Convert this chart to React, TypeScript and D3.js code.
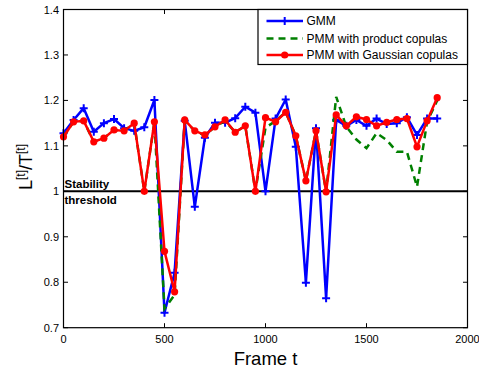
import React, {useEffect, useRef} from "react";
import * as d3 from "d3";

// frame index of each sample
const frames = [0, 50, 100, 150, 200, 250, 300, 350, 400, 450, 500, 550, 600, 650, 700, 750, 800, 850, 900, 950,
    1000, 1050, 1100, 1150, 1200, 1250, 1300, 1350, 1400, 1450, 1500, 1550, 1600, 1650, 1700, 1750, 1800, 1850];

const gmm = [1.128, 1.157, 1.183, 1.131, 1.150, 1.159, 1.139, 1.133, 1.141, 1.201, 0.733, 0.821, 1.155, 0.966, 1.118,
    1.151, 1.151, 1.161, 1.186, 1.173, 1.0, 1.160, 1.202, 1.098, 0.799, 1.139, 0.765, 1.157, 1.144, 1.157, 1.144,
    1.160, 1.148, 1.150, 1.163, 1.124, 1.160, 1.160];

const productCopulas = [1.120, 1.153, 1.155, 1.109, 1.117, 1.135, 1.133, 1.150, 1.0, 1.153, 0.742, 0.772, 1.155,
    1.133, 1.123, 1.142, 1.155, 1.130, 1.144, 1.0, 1.140, 1.155, 1.174, 1.122, 1.023, 1.133, 0.999, 1.208, 1.142,
    1.114, 1.095, 1.128, 1.113, 1.087, 1.087, 1.010, 1.153, 1.200];

const gaussianCopulas = [1.120, 1.153, 1.155, 1.109, 1.117, 1.135, 1.133, 1.150, 1.0, 1.153, 0.868, 0.779, 1.157,
    1.133, 1.124, 1.142, 1.157, 1.130, 1.144, 1.0, 1.162, 1.153, 1.174, 1.122, 1.023, 1.133, 0.999, 1.168, 1.144,
    1.164, 1.158, 1.144, 1.152, 1.158, 1.160, 1.098, 1.155, 1.206];

const xTicks = [0, 500, 1000, 1500, 2000];
const yTicks = [0.7, 0.8, 0.9, 1.0, 1.1, 1.2, 1.3, 1.4];
const threshold = 1.0;

const legendNames = ["GMM", "PMM with product copulas", "PMM with Gaussian copulas"];

const FONT = "Arial, 'Liberation Sans', Helvetica, sans-serif";

const App = () => {
    const ref = useRef<SVGSVGElement>(null);

    const width = 479, height = 369;
    const left = 63.5, right = 467.5, top = 9.5, bottom = 327.7;

    useEffect(() => {
        const svg = d3.select(ref.current);
        svg.selectAll("*").remove();

        const x = d3.scaleLinear().domain([0, 2000]).range([left, right]);
        const y = d3.scaleLinear().domain([0.7, 1.4]).range([bottom, top]);

        svg.append("rect").attr("width", width).attr("height", height).attr("fill", "#fff");

        const g = svg.append("g");
        const tick = 4.5;

        // ticks (inward, all four sides)
        xTicks.forEach(t => {
            g.append("line").attr("x1", x(t)).attr("x2", x(t)).attr("y1", bottom).attr("y2", bottom - tick)
                .attr("stroke", "#000");
            g.append("line").attr("x1", x(t)).attr("x2", x(t)).attr("y1", top).attr("y2", top + tick)
                .attr("stroke", "#000");
            g.append("text").attr("x", x(t)).attr("y", bottom + 15.5)
                .attr("text-anchor", "middle").attr("font-size", 11).attr("font-family", FONT)
                .text(d3.format("d")(t));
        });
        yTicks.forEach(t => {
            g.append("line").attr("x1", left).attr("x2", left + tick).attr("y1", y(t)).attr("y2", y(t))
                .attr("stroke", "#000");
            g.append("line").attr("x1", right).attr("x2", right - tick).attr("y1", y(t)).attr("y2", y(t))
                .attr("stroke", "#000");
            g.append("text").attr("x", left - 4.5).attr("y", y(t) + 4)
                .attr("text-anchor", "end").attr("font-size", 11).attr("font-family", FONT)
                .text(d3.format("~g")(t));
        });

        // stability threshold
        g.append("line").attr("x1", left).attr("x2", right).attr("y1", y(threshold)).attr("y2", y(threshold))
            .attr("stroke", "#000").attr("stroke-width", 2);
        g.append("text").attr("x", left + 1).attr("y", y(threshold) - 3.5)
            .attr("font-size", 11.5).attr("font-weight", "bold").attr("font-family", FONT).text("Stability");
        g.append("text").attr("x", left + 1).attr("y", y(threshold) + 13)
            .attr("font-size", 11.5).attr("font-weight", "bold").attr("font-family", FONT).text("threshold");

        const line = d3.line<number>().x((d, i) => x(frames[i])).y(d => y(d));

        // GMM
        g.append("path").datum(gmm).attr("d", line).attr("fill", "none")
            .attr("stroke", "#0000ff").attr("stroke-width", 2.5).attr("stroke-linejoin", "round");
        g.selectAll(".plus").data(gmm).join("path").attr("class", "plus")
            .attr("d", (d, i) => {
                const px = x(frames[i]), py = y(d), s = 4;
                return `M${px - s},${py}H${px + s}M${px},${py - s}V${py + s}`;
            })
            .attr("stroke", "#0000ff").attr("stroke-width", 2);

        // product copulas
        g.append("path").datum(productCopulas).attr("d", line).attr("fill", "none")
            .attr("stroke", "#008000").attr("stroke-width", 2.5).attr("stroke-dasharray", "7,5");

        // Gaussian copulas
        g.append("path").datum(gaussianCopulas).attr("d", line).attr("fill", "none")
            .attr("stroke", "#ff0000").attr("stroke-width", 2.5).attr("stroke-linejoin", "round");
        g.selectAll(".dot").data(gaussianCopulas).join("circle").attr("class", "dot")
            .attr("cx", (d, i) => x(frames[i])).attr("cy", d => y(d)).attr("r", 3.6)
            .attr("fill", "#ff0000");

        // axes box
        g.append("rect").attr("x", left).attr("y", top).attr("width", right - left).attr("height", bottom - top)
            .attr("fill", "none").attr("stroke", "#000").attr("stroke-width", 1.2);

        // legend
        const lx = 258, ly = top, lw = right - lx, lh = 55;
        const leg = g.append("g");
        leg.append("rect").attr("x", lx).attr("y", ly).attr("width", lw).attr("height", lh)
            .attr("fill", "#fff").attr("stroke", "#000").attr("stroke-width", 1.2);
        const rows = [21, 38.5, 55];
        const colours = ["#0000ff", "#008000", "#ff0000"];
        legendNames.forEach((name, i) => {
            const ry = rows[i];
            leg.append("line").attr("x1", 266.5).attr("x2", 303).attr("y1", ry).attr("y2", ry)
                .attr("stroke", colours[i]).attr("stroke-width", 2.5)
                .attr("stroke-dasharray", i === 1 ? "7,5" : null);
            if (i === 0) {
                leg.append("path").attr("d", `M${284.7 - 4},${ry}H${284.7 + 4}M${284.7},${ry - 4}V${ry + 4}`)
                    .attr("stroke", colours[i]).attr("stroke-width", 2);
            }
            if (i === 2) {
                leg.append("circle").attr("cx", 284.7).attr("cy", ry).attr("r", 3.6).attr("fill", colours[i]);
            }
            leg.append("text").attr("x", 306.5).attr("y", ry + 4.3).attr("font-size", 12)
                .attr("font-family", FONT).text(name);
        });

        // axis labels
        svg.append("text").attr("x", (left + right) / 2).attr("y", 365)
            .attr("text-anchor", "middle").attr("font-size", 18.5).attr("font-family", FONT).text("Frame t");

        const yl = svg.append("text").attr("transform", "translate(32,167) rotate(-90)")
            .attr("text-anchor", "middle").attr("font-size", 18).attr("font-family", FONT);
        yl.append("tspan").text("L");
        yl.append("tspan").attr("font-size", 12).attr("dy", -7).text("[t]");
        yl.append("tspan").attr("dy", 7).text("/T");
        yl.append("tspan").attr("font-size", 12).attr("dy", -7).text("[t]");
    }, []);

    return (
        <svg width={width} height={height} ref={ref} style={{display: "block", position: "absolute", left: 0, top: 0}}/>
    );
};

export default App;
